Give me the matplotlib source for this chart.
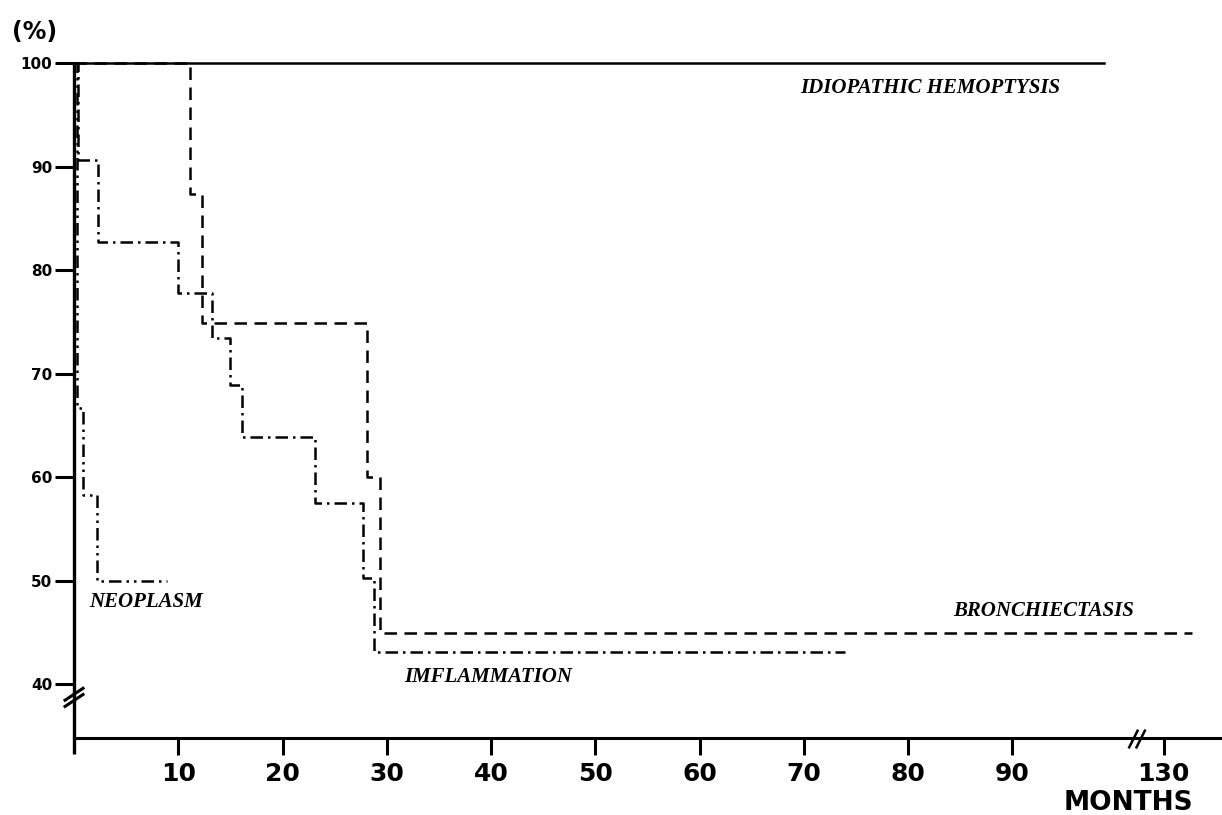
import numpy as np
import matplotlib
matplotlib.use("Agg")
import matplotlib.pyplot as plt

# survival curves (months, % surviving)
hemo_t = [0, 98.8]
hemo_s = [100, 100]

bronch_t = [0, 11.1, 12.3, 28.1, 29.3, 148]
bronch_s = [100, 87.4, 74.9, 60.0, 44.9, 44.9]

inflam_t = [0, 0.4, 2.3, 10.0, 13.2, 15.0, 16.1, 23.1, 27.7, 28.8, 73.9]
inflam_s = [100, 90.6, 82.7, 77.8, 73.4, 68.9, 63.9, 57.5, 50.3, 43.1, 43.1]

neo_t = [0, 0.3, 0.9, 2.2, 8.9]
neo_s = [100, 66.7, 58.3, 50.0, 50.0]

xticks = [10, 20, 30, 40, 50, 60, 70, 80, 90, 130]
yticks = [40, 50, 60, 70, 80, 90, 100]

BREAK = 100.0
SQUEEZE = 0.15


def fwd(x):
    x = np.asarray(x, dtype=float)
    return np.where(x <= BREAK, x, BREAK + (x - BREAK) * SQUEEZE)


def inv(y):
    y = np.asarray(y, dtype=float)
    return np.where(y <= BREAK, y, BREAK + (y - BREAK) / SQUEEZE)


fig = plt.figure(figsize=(12.22, 8.15), dpi=100)
ax = fig.add_axes([74 / 1222, 77 / 815, 1 - 74 / 1222, 1 - 77 / 815])
ax.set_xscale('function', functions=(fwd, inv))
ax.set_xlim(0, float(inv(110.1)))
ax.set_ylim(34.8, 106.1)

lw = 1.8
ax.step(hemo_t, hemo_s, where='post', color='black', lw=lw)
ax.step(bronch_t, bronch_s, where='post', color='black', lw=lw,
        linestyle=(0, (5, 3)))
ax.step(inflam_t, inflam_s, where='post', color='black', lw=lw,
        linestyle=(0, (5, 2, 1, 2)))
ax.step(neo_t, neo_s, where='post', color='black', lw=lw,
        linestyle=(0, (5, 2, 1, 2, 1, 2)))

# axes look
for s in ['top', 'right', 'left']:
    ax.spines[s].set_visible(False)
ax.spines['bottom'].set_linewidth(2.2)
ax.plot([0, 0], [33.3, 100], color='black', lw=2.4, clip_on=False,
        solid_capstyle='butt')

ax.set_yticks(yticks, labels=[str(v) for v in yticks],
              fontsize=11, fontweight='heavy')
ax.set_xticks(xticks, labels=[str(v) for v in xticks],
              fontsize=18, fontweight='bold')
ax.minorticks_off()
ax.tick_params(axis='y', length=13.5, width=2.2, pad=2)
ax.tick_params(axis='x', length=12.5, width=2.2, pad=5)

# axis break marks
for dy in (0, -0.6):
    ax.plot([-0.86, 0.86], [38.45 + dy, 39.6 + dy], color='black', lw=2.2,
            clip_on=False)
for dx in (0, 0.7):
    xs = inv([101.2 + dx, 102.0 + dx])
    ax.plot(xs, [33.9, 35.5], color='black', lw=1.8, clip_on=False)

# curve labels
lab = dict(fontsize=15, fontweight='bold', fontstyle='italic',
           family='Liberation Serif', va='center', ha='left')
ax.text(69.6, 97.6, 'IDIOPATHIC HEMOPTYSIS', **lab)
ax.text(1.5, 47.9, 'NEOPLASM', **lab)
ax.text(84.3, 47.1, 'BRONCHIECTASIS', **lab)
ax.text(31.7, 40.7, 'IMFLAMMATION', **lab)

fig.text(12 / 1222, 1 - 32 / 815, '(%)', fontsize=17, fontweight='heavy',
         va='center', ha='left')
fig.text(1128 / 1222, 1 - 803 / 815, 'MONTHS', fontsize=19,
         fontweight='bold', va='center', ha='center')

fig.savefig('out.png', dpi=100, facecolor='white')
